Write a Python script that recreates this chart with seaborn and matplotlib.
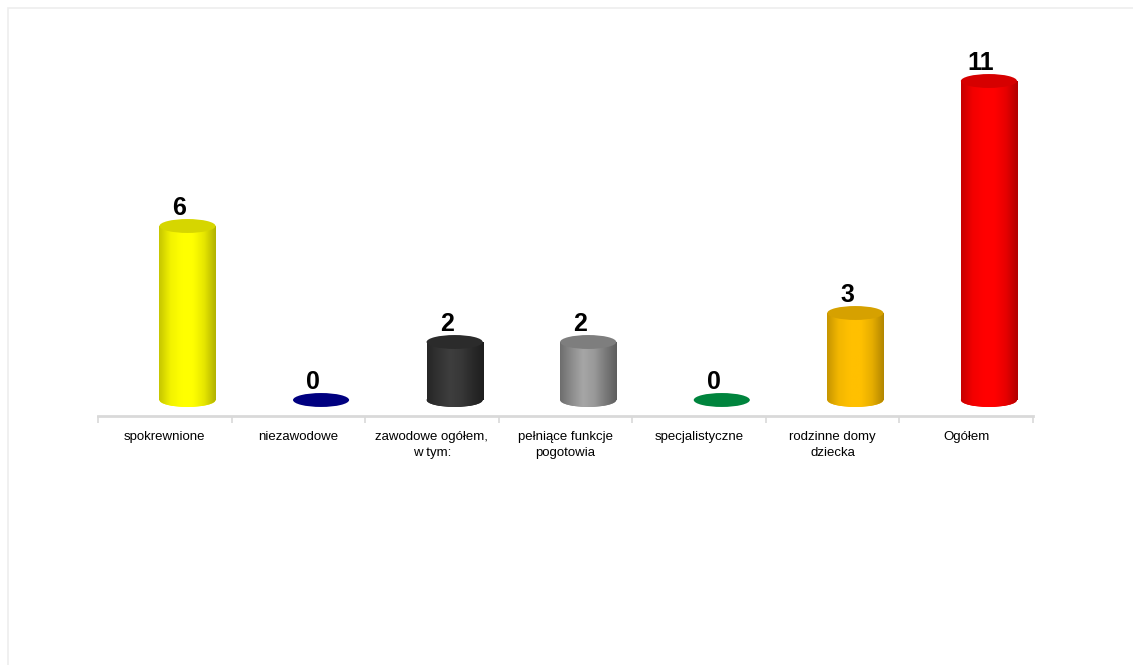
import numpy as np
import pandas as pd
import seaborn as sns
import matplotlib
matplotlib.use("Agg")
import matplotlib.pyplot as plt
from matplotlib.patches import Ellipse, Rectangle
from matplotlib.colors import LinearSegmentedColormap, to_rgb

# data
categories = ['spokrewnione', 'niezawodowe', 'zawodowe ogółem,\nw tym:',
              'pełniące funkcje\npogotowia', 'specjalistyczne',
              'rodzinne domy\ndziecka', 'Ogółem']
values = [6, 0, 2, 2, 0, 3, 11]
colors = ['#FFFF00', '#000080', '#333333', '#969696', '#00843D', '#FFC000', '#FF0000']

df = pd.DataFrame({'kat': categories, 'val': values})

sns.set_theme(style='white')
plt.rcParams['font.family'] = ['Liberation Sans', 'DejaVu Sans']

fig = plt.figure(figsize=(11.33, 6.65), dpi=100)
ax = fig.add_axes([98 / 1133, (665 - 416) / 665, 935 / 1133, 376 / 665])

bar_w = 0.42
ell_h = 0.48   # height of the cylinder caps in data units
off = 0.17     # 3d depth shift of the bars against the labels

sns.barplot(data=df, x='kat', y='val', hue='kat', palette=colors, legend=False,
            width=bar_w, ax=ax, linewidth=0, zorder=2)

def shade(c, f):
    r, g, b = to_rgb(c)
    return (r * f, g * f, b * f)

grad = np.linspace(0, 1, 100).reshape(1, -1)
for i, (p, v, c) in enumerate(zip(ax.patches, values, colors)):
    cx = p.get_x() + p.get_width() / 2
    x0, x1 = cx - bar_w / 2, cx + bar_w / 2
    if v > 0:
        cmap = LinearSegmentedColormap.from_list(
            'cyl%d' % i,
            [shade(c, 0.78), shade(c, 0.95), c, c, shade(c, 0.9), shade(c, 0.7)])
        if c == '#969696':
            cmap = LinearSegmentedColormap.from_list(
                'cyl%d' % i, ['#6E6E6E', '#8C8C8C', '#A6A6A6', '#9A9A9A', '#7A7A7A', '#5E5E5E'])
        if c == '#333333':
            cmap = LinearSegmentedColormap.from_list(
                'cyl%d' % i, ['#262626', '#333333', '#3E3E3E', '#383838', '#2A2A2A', '#1E1E1E'])
        base = Ellipse((cx, 0), bar_w, ell_h, facecolor=c, lw=0, zorder=2)
        ax.add_patch(base)
        im = ax.imshow(grad, extent=[x0, x1, 0, v], aspect='auto', cmap=cmap, zorder=3)
        im.set_clip_path(p)
        im2 = ax.imshow(grad, extent=[x0, x1, -ell_h, 0], aspect='auto', cmap=cmap, zorder=3)
        im2.set_clip_path(base)
        ax.add_patch(Ellipse((cx, v), bar_w, ell_h, facecolor=shade(c, 0.84), lw=0, zorder=4))
    else:
        ax.add_patch(Ellipse((cx, 0), bar_w, ell_h, facecolor=c, lw=0, zorder=4))
    ax.text(cx - 0.06, v + ell_h / 2 + 0.14, str(v), ha='center', va='baseline',
            fontsize=18, fontweight='bold', color='black', zorder=5)

ax.set_xlim(-0.5 - off, 6.5 - off)
ax.set_ylim(-16 / 29, 360 / 29)
ax.set_xticks(np.arange(7) - off)
ax.set_xticklabels(categories, fontsize=9.5, color='black', linespacing=1.4)
ax.set_xticks(np.arange(8) - 0.5 - off, minor=True)
ax.tick_params(axis='x', which='major', length=0, pad=11)
ax.tick_params(axis='x', which='minor', length=5, width=1.2, color='#D9D9D9', bottom=True)
ax.set_yticks([])
ax.set_xlabel('')
ax.set_ylabel('')
for s in ['top', 'right', 'left']:
    ax.spines[s].set_visible(False)
ax.spines['bottom'].set_color('#D9D9D9')
ax.spines['bottom'].set_linewidth(2)
ax.patch.set_alpha(0)

# light frame around the chart area
fig.patches.append(Rectangle((8 / 1133, -0.01), 1.0, 1 - 8 / 665 + 0.01,
                             transform=fig.transFigure, fill=False,
                             edgecolor='#EDEDED', lw=1.2, zorder=0))

fig.savefig('out.png', dpi=100)
